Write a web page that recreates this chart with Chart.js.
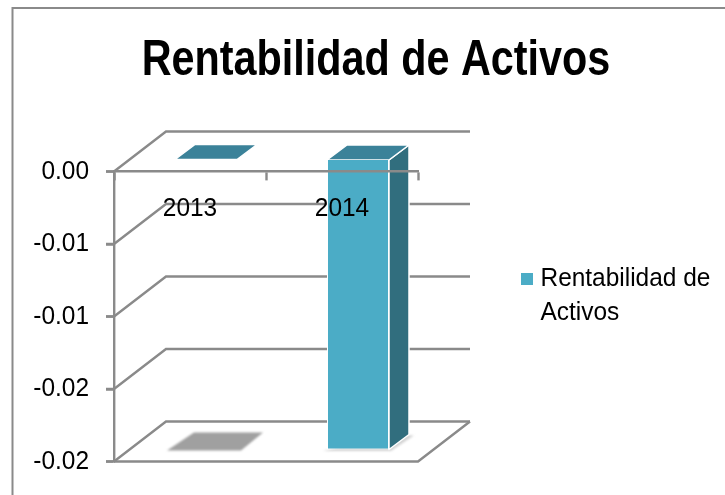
<!DOCTYPE html>
<html><head><meta charset="utf-8">
<style>html,body{margin:0;padding:0;background:#fff}canvas{display:block}</style>
<script src="https://cdn.jsdelivr.net/npm/chart.js@4/dist/chart.umd.min.js"></script>
</head><body><canvas id="c" width="725" height="495"></canvas>
<script>
const categories = ['2013', '2014'];
const values = [0, -0.02];
const tickLabels = ['0.00', '-0.01', '-0.01', '-0.02', '-0.02'];
const seriesName = 'Rentabilidad de Activos';
const legendLines = ['Rentabilidad de', 'Activos'];
const GRAY = '#8a8a8a', FRONT = '#4bacc6', TOP = '#3b8299', SIDE = '#316e7e';
const DEPTH = {x: 52, y: -40};   // wall depth
const BAR_OFF = {x: 16, y: -12}; // bar position inside the depth
const BAR_D = {x: 20, y: -15};   // bar depth
const LEGEND_SHIFT = {x: 4.5, y: 69};
const FONT = '"Liberation Sans", Arial, sans-serif';

function poly(ctx, pts, fill, stroke, lw) {
  ctx.beginPath();
  pts.forEach((p, i) => i ? ctx.lineTo(p[0], p[1]) : ctx.moveTo(p[0], p[1]));
  ctx.closePath();
  if (fill) { ctx.fillStyle = fill; ctx.fill(); }
  if (stroke) { ctx.strokeStyle = stroke; ctx.lineWidth = lw; ctx.lineJoin = 'round'; ctx.stroke(); }
}
function line(ctx, pts) {
  ctx.beginPath();
  pts.forEach((p, i) => i ? ctx.lineTo(p[0], p[1]) : ctx.moveTo(p[0], p[1]));
  ctx.strokeStyle = GRAY; ctx.lineWidth = 2.4; ctx.lineJoin = 'miter'; ctx.stroke();
}

const box3d = {
  id: 'box3d',
  beforeInit(chart) {
    // the reference font is condensed: squeeze every text horizontally
    const ctx = chart.ctx, orig = ctx.fillText.bind(ctx);
    ctx.fillText = (t, x, y) => {
      const k = ctx.font.includes('bold') ? 0.827 : 0.94;
      orig(t, x, y, ctx.measureText(t).width * k);
    };
  },
  beforeLayout(chart) {
    const lg = chart.legend;
    if (lg && !lg._wrapped) {
      const fit = lg.fit, draw = lg._draw;
      lg.fit = function () { fit.call(this); this.width = 307; };
      lg._draw = function () {
        this.ctx.save();
        this.ctx.translate(LEGEND_SHIFT.x, LEGEND_SHIFT.y);
        draw.call(this);
        this.ctx.restore();
      };
      lg._wrapped = true;
    }
  },
  beforeDraw(chart) {
    const ctx = chart.ctx;
    ctx.save();
    ctx.strokeStyle = GRAY; ctx.lineWidth = 2;
    ctx.beginPath(); ctx.moveTo(12.5, 495); ctx.lineTo(12.5, 8); ctx.lineTo(725, 8); ctx.stroke();
    ctx.restore();
  },
  beforeDatasetsDraw(chart) {
    const ctx = chart.ctx, y = chart.scales.y, a = chart.chartArea;
    ctx.save();
    y.ticks.forEach((t, i) => {
      const p = y.getPixelForTick(i);
      line(ctx, [[a.left - 8, p], [a.left, p], [a.left + DEPTH.x, p + DEPTH.y], [a.right + DEPTH.x, p + DEPTH.y]]);
    });
    const b = y.getPixelForValue(y.min);
    line(ctx, [[a.left, b], [a.right, b], [a.right + DEPTH.x, b + DEPTH.y]]);
    // floor shadows
    const meta = chart.getDatasetMeta(0);
    ctx.filter = 'blur(1px)';
    meta.data.forEach((el, i) => {
      const w = el.width, x0 = el.x - w / 2 + BAR_OFF.x, fy = b + BAR_OFF.y;
      if (values[i] === 0) {
        poly(ctx, [[x0 - 8, fy + 1], [x0 + w + 4, fy + 1], [x0 + w + BAR_D.x + 6, fy + BAR_D.y - 2], [x0 + BAR_D.x - 1, fy + BAR_D.y - 2]], '#a0a0a0');
      } else {
        poly(ctx, [[x0 - 4, fy + 1.5], [x0 + w + 2, fy + 1.5], [x0 + w + BAR_D.x + 5, fy + BAR_D.y + 1], [x0 + w, fy + BAR_D.y]], '#d4d4d4');
      }
    });
    ctx.restore();
  },
  beforeDatasetDraw(chart, args) {
    const ctx = chart.ctx, meta = args.meta;
    ctx.save();
    ctx.translate(BAR_OFF.x, BAR_OFF.y);
    meta.data.forEach((el) => {
      const l = el.x - el.width / 2, r = el.x + el.width / 2, t = Math.min(el.y, el.base), bt = Math.max(el.y, el.base);
      if (bt > t) poly(ctx, [[r, t], [r + BAR_D.x, t + BAR_D.y], [r + BAR_D.x, bt + BAR_D.y], [r, bt]], SIDE, '#fff', 1.5);
      poly(ctx, [[l, t], [r, t], [r + BAR_D.x, t + BAR_D.y], [l + BAR_D.x, t + BAR_D.y]], TOP, '#fff', 1.5);
    });
  },
  afterDatasetDraw(chart) { chart.ctx.restore(); }
};

new Chart(document.getElementById('c'), {
  type: 'bar',
  plugins: [box3d],
  data: {
    labels: categories,
    datasets: [{
      label: seriesName, data: values, backgroundColor: FRONT,
      borderColor: '#fff', borderWidth: 1, clip: false,
      categoryPercentage: 0.78, barPercentage: 0.523
    }]
  },
  options: {
    responsive: false, animation: false,
    layout: {padding: {left: 27, right: 0, top: 0, bottom: 33.5}},
    plugins: {
      tooltip: {enabled: false},
      title: {
        display: true, text: seriesName, color: '#000', align: 'center',
        font: {family: FONT, size: 50, weight: 'bold', lineHeight: 1.2},
        padding: {top: 31, bottom: 80.5}
      },
      legend: {
        display: true, position: 'right', align: 'center',
        labels: {
          boxWidth: 1, boxHeight: 1, padding: 104, color: '#000',
          font: {family: FONT, size: 26, lineHeight: 1.3},
          generateLabels: () => [{text: legendLines, fillStyle: FRONT, strokeStyle: FRONT, lineWidth: 11, hidden: false, datasetIndex: 0}]
        }
      }
    },
    scales: {
      x: {
        position: {y: 0}, offset: true,
        border: {display: true, color: GRAY, width: 2.4, z: 1},
        grid: {display: true, z: 1, drawOnChartArea: false, drawTicks: true, tickLength: 8, tickColor: GRAY, tickWidth: 2.4},
        ticks: {z: 1, color: '#000', font: {family: FONT, size: 26}, padding: 14, maxRotation: 0}
      },
      y: {
        min: -0.02, max: 0, afterFit: s => { s.width = 87; },
        border: {display: true, color: GRAY, width: 2.4},
        grid: {display: true, drawOnChartArea: false, drawTicks: true, tickLength: 8, tickColor: GRAY, tickWidth: 2.4},
        ticks: {
          stepSize: 0.005, color: '#000', font: {family: FONT, size: 26}, padding: 17,
          callback: (v, i, all) => tickLabels[all.length - 1 - i]
        }
      }
    }
  }
});
</script></body></html>
